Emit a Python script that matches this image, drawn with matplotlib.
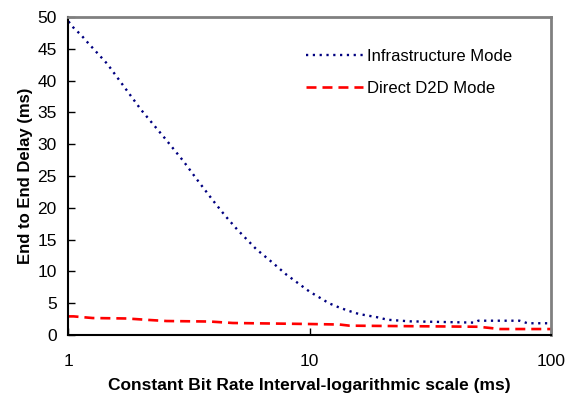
import matplotlib
matplotlib.use("Agg")
import matplotlib.pyplot as plt

plt.rcParams['font.family'] = ['Liberation Sans', 'DejaVu Sans']
plt.rcParams['lines.scale_dashes'] = False

# Data
infra_x = [1, 1.06, 1.12, 1.2, 1.45, 2, 2.5, 3, 3.4, 4, 4.45, 5, 6, 7, 8, 10, 11.2, 12, 13.3, 14.5, 16, 19, 21, 26, 48, 50, 74, 80, 100]
infra_y = [49.3, 48.1, 47.3, 46.0, 42.6, 35.4, 31.0, 27.3, 24.5, 21.0, 18.8, 16.6, 13.5, 11.4, 9.5, 6.8, 5.7, 5.0, 4.3, 3.8, 3.3, 2.8, 2.4, 2.15, 1.95, 2.25, 2.25, 1.85, 1.85]

d2d_x = [1, 1.05, 1.26, 1.74, 2.17, 2.55, 3.85, 4.8, 10, 13.3, 14.6, 50, 61.5, 100]
d2d_y = [2.93, 2.93, 2.67, 2.6, 2.36, 2.2, 2.12, 1.89, 1.73, 1.65, 1.47, 1.3, 0.94, 0.94]

labels = ["Infrastructure Mode", "Direct D2D Mode"]
x_ticks = [1, 10, 100]
y_ticks = [0, 5, 10, 15, 20, 25, 30, 35, 40, 45, 50]

fig = plt.figure(figsize=(5.66, 3.94), dpi=100)
ax = fig.add_axes([0.121, 0.1497, 0.8525, 0.8072])

ax.plot(infra_x, infra_y, color='#000080', lw=1.7, dashes=(1.6, 3.3), label=labels[0])
ax.plot(d2d_x, d2d_y, color='#FF0000', lw=1.9, dashes=(7.2, 4.3), label=labels[1])

ax.set_xscale('log')
ax.set_xlim(1, 100)
ax.set_ylim(0, 50)
ax.set_xticks(x_ticks)
ax.set_xticklabels([str(t) for t in x_ticks])
ax.minorticks_off()
ax.set_yticks(y_ticks)
ax.tick_params(axis='x', which='major', direction='in', length=5, width=1, pad=14, labelsize=12.5, colors='black')
ax.tick_params(axis='y', which='major', direction='in', length=5, width=1, pad=8.5, labelsize=12.5)
ax.tick_params(axis='x', which='minor', length=0)

for s in ['left', 'bottom']:
    ax.spines[s].set_color('black')
    ax.spines[s].set_linewidth(1.5)
for s in ['top', 'right']:
    ax.spines[s].set_color('#808080')
    ax.spines[s].set_linewidth(2)

ax.set_xlabel("Constant Bit Rate Interval-logarithmic scale (ms)", fontsize=12.5, fontweight='bold', labelpad=6.5)
ax.set_ylabel("End to End Delay (ms)", fontsize=12, fontweight='bold', labelpad=3)

ax.legend(loc='upper left', bbox_to_anchor=(0.492, 0.90), frameon=False, fontsize=12,
          handlelength=3.4, handletextpad=0.25, labelspacing=1.05, borderpad=0, borderaxespad=0)

fig.savefig("out.png", dpi=100)
